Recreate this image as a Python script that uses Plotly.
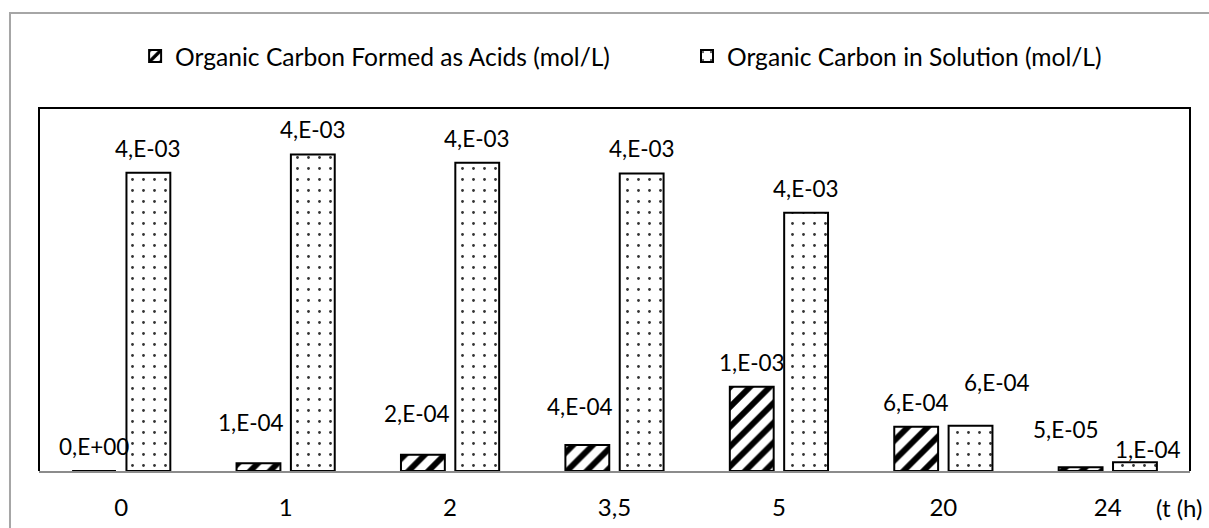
import plotly.graph_objects as go

categories = ["0", "1", "2", "3,5", "5", "20", "24"]
acids = [0.0, 1.06e-4, 2.24e-4, 3.58e-4, 1.161e-3, 6.1e-4, 5.0e-5]
solution = [4.108e-3, 4.361e-3, 4.246e-3, 4.099e-3, 3.557e-3, 6.24e-4, 1.2e-4]
series_names = ["Organic Carbon Formed as Acids (mol/L)", "Organic Carbon in Solution (mol/L)"]
x_title = "(t (h)"

FONT = "Lato"

def fmt(v):
    m, e = f"{v:.0e}".split("e")
    return f"{m},E{e}"

fig = go.Figure()
fig.add_trace(go.Bar(
    x=categories, y=acids, name=series_names[0], legend="legend",
    marker=dict(color="white", line=dict(color="black", width=2),
                pattern=dict(shape="/", fgcolor="#000000", bgcolor="#ffffff", fgopacity=1,
                             fillmode="replace", size=14, solidity=0.42)),
))
fig.add_trace(go.Bar(
    x=categories, y=solution, name=series_names[1], legend="legend2",
    marker=dict(color="white", line=dict(color="black", width=2),
                pattern=dict(shape=".", fgcolor="#333333", bgcolor="#ffffff", fgopacity=1,
                             fillmode="replace", size=11, solidity=0.05)),
))

# label nudges (px) for manually moved labels: (dx, dy)
nudge_acids = {1: (-7, 16), 2: (-6, 17), 3: (-7, 14), 6: (-15, 13)}
nudge_sol = {5: (26, 19), 6: (13, -12)}

slot = 27.2
base_lift = 9
lab_font = dict(family=FONT, size=22.5, color="black")
annotations = []
for i, v in enumerate(acids):
    dx, dy = nudge_acids.get(i, (0, 0))
    annotations.append(dict(x=i, y=v, xref="x", yref="y", text=fmt(v), showarrow=False,
                            xshift=-slot + dx, yshift=base_lift + dy, yanchor="bottom", font=lab_font))
for i, v in enumerate(solution):
    dx, dy = nudge_sol.get(i, (0, 0))
    annotations.append(dict(x=i, y=v, xref="x", yref="y", text=fmt(v), showarrow=False,
                            xshift=slot + dx, yshift=base_lift + dy, yanchor="bottom", font=lab_font))
annotations.append(dict(x=1, y=0, xref="paper", yref="paper", text=x_title, showarrow=False,
                        xanchor="right", yanchor="top", xshift=15, yshift=-20,
                        font=dict(family=FONT, size=24, color="black")))

shapes = [
    dict(type="rect", xref="paper", yref="paper", x0=-0.0252, x1=1.03, y0=-0.2, y1=1.2617,
         line=dict(color="#a6a6a6", width=2), fillcolor="rgba(0,0,0,0)", layer="below"),
    dict(type="path", xref="paper", yref="paper", path="M 0 0 L 0 1 L 1 1 L 1 0",
         line=dict(color="black", width=2)),
]

leg_font = dict(family=FONT, size=24.6, color="black")
fig.update_layout(
    width=1209, height=528,
    margin=dict(l=39, r=19, t=108, b=57),
    paper_bgcolor="white", plot_bgcolor="white",
    barmode="group", bargap=0.339, bargroupgap=0.193,
    font=dict(family=FONT, color="black"),
    showlegend=True,
    legend=dict(orientation="h", x=0.0835, xanchor="left", y=1.143, yanchor="middle",
                font=leg_font, bgcolor="rgba(0,0,0,0)"),
    legend2=dict(orientation="h", x=0.5630, xanchor="left", y=1.143, yanchor="middle",
                 font=leg_font, bgcolor="rgba(0,0,0,0)"),
    xaxis=dict(type="category", range=[-0.5, 6.5], showline=True, linecolor="#8c8c8c", linewidth=2,
               showgrid=False, ticks="", ticklabelstandoff=14, automargin=False,
               tickfont=dict(family=FONT, size=24, color="black")),
    yaxis=dict(range=[0, 5e-3], showgrid=False, showticklabels=False, zeroline=False,
               showline=False, ticks="", automargin=False),
    annotations=annotations, shapes=shapes,
)

fig.write_html("out.html", config={"displayModeBar": False},
               post_script="document.body.style.margin='0px';document.body.style.overflow='hidden';")
